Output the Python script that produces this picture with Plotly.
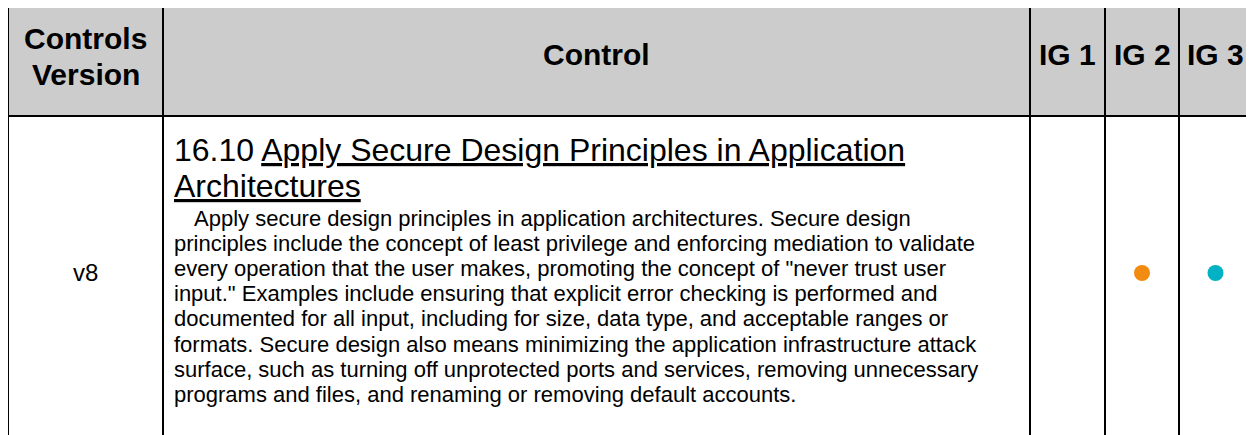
import plotly.graph_objects as go

# ---------------- data ----------------
header_labels = ["Controls<br>Version", "Control", "IG 1", "IG 2", "IG 3"]
row_version = "v8"
control_id = "16.10"
control_title_lines = ["Apply Secure Design Principles in Application", "Architectures"]
description_lines = [
    "Apply secure design principles in application architectures. Secure design",
    "principles include the concept of least privilege and enforcing mediation to validate",
    "every operation that the user makes, promoting the concept of \"never trust user",
    "input.\" Examples include ensuring that explicit error checking is performed and",
    "documented for all input, including for size, data type, and acceptable ranges or",
    "formats. Secure design also means minimizing the application infrastructure attack",
    "surface, such as turning off unprotected ports and services, removing unnecessary",
    "programs and files, and renaming or removing default accounts.",
]
ig_flags = [False, True, True]
ig_colors = ["#f28c10", "#f28c10", "#00b2c3"]

# ---------------- layout geometry (page pixel coordinates) ----------------
W, H = 1254, 435
OFF = 8  # default body margin of the html page
col_edges = [8, 163, 1030, 1105, 1179, 1252]
top_y, header_bottom, bottom_y = 3, 116, 450
FONT = "Liberation Sans, Arial, sans-serif"

fig = go.Figure()
shapes = []
shapes.append(dict(type="rect", x0=col_edges[0], x1=col_edges[-1], y0=top_y, y1=header_bottom,
                   fillcolor="#cccccc", line=dict(width=0), layer="below"))
for yy in (top_y, header_bottom):
    shapes.append(dict(type="line", x0=col_edges[0] - 1, x1=col_edges[-1] + 1, y0=yy, y1=yy,
                       line=dict(color="black", width=2)))
for xx in col_edges:
    shapes.append(dict(type="line", x0=xx, x1=xx, y0=top_y, y1=bottom_y,
                       line=dict(color="black", width=2)))

ann = []
centers = [(col_edges[i] + col_edges[i + 1]) / 2 for i in range(len(col_edges) - 1)]
hdr_font = dict(family=FONT, size=30, color="black")
ann.append(dict(x=centers[0], y=38, text="<b>Controls</b>", showarrow=False, xanchor="center",
                yanchor="middle", font=hdr_font))
ann.append(dict(x=centers[0], y=74, text="<b>Version</b>", showarrow=False, xanchor="center",
                yanchor="middle", font=hdr_font))
for i in range(1, 5):
    ann.append(dict(x=centers[i], y=54, text="<b>%s</b>" % header_labels[i], showarrow=False,
                    xanchor="center", yanchor="middle", font=hdr_font))

ann.append(dict(x=centers[0], y=272, text=row_version, showarrow=False, xanchor="center", yanchor="middle",
                font=dict(family=FONT, size=24, color="black")))

text_x = 172
title_font = dict(family=FONT, size=32, color="black")
ann.append(dict(x=text_x, y=150, text=control_id + " <u>" + control_title_lines[0] + "</u>", showarrow=False,
                xanchor="left", yanchor="middle", font=title_font))
ann.append(dict(x=text_x, y=186, text="<u>" + control_title_lines[1] + "</u>", showarrow=False,
                xanchor="left", yanchor="middle", font=title_font))

body_font = dict(family=FONT, size=22, color="black")
for i, line in enumerate(description_lines):
    x = text_x + (20 if i == 0 else 0)
    ann.append(dict(x=x, y=218 + 25.2 * i, text=line, showarrow=False, xanchor="left", yanchor="middle",
                    font=body_font))

xs, ys, cs = [], [], []
for i, flag in enumerate(ig_flags):
    if flag:
        xs.append(centers[2 + i])
        ys.append(273)
        cs.append(ig_colors[i])
fig.add_trace(go.Scatter(x=xs, y=ys, mode="markers", marker=dict(size=16, color=cs, line=dict(width=0)),
                         hoverinfo="skip", showlegend=False))

fig.update_layout(
    width=W, height=H, margin=dict(l=0, r=0, t=0, b=0),
    paper_bgcolor="white", plot_bgcolor="white",
    xaxis=dict(range=[OFF, W + OFF], visible=False, fixedrange=True),
    yaxis=dict(range=[H + OFF, OFF], visible=False, fixedrange=True),
    shapes=shapes, annotations=ann, showlegend=False,
)
fig.write_html("out.html")
